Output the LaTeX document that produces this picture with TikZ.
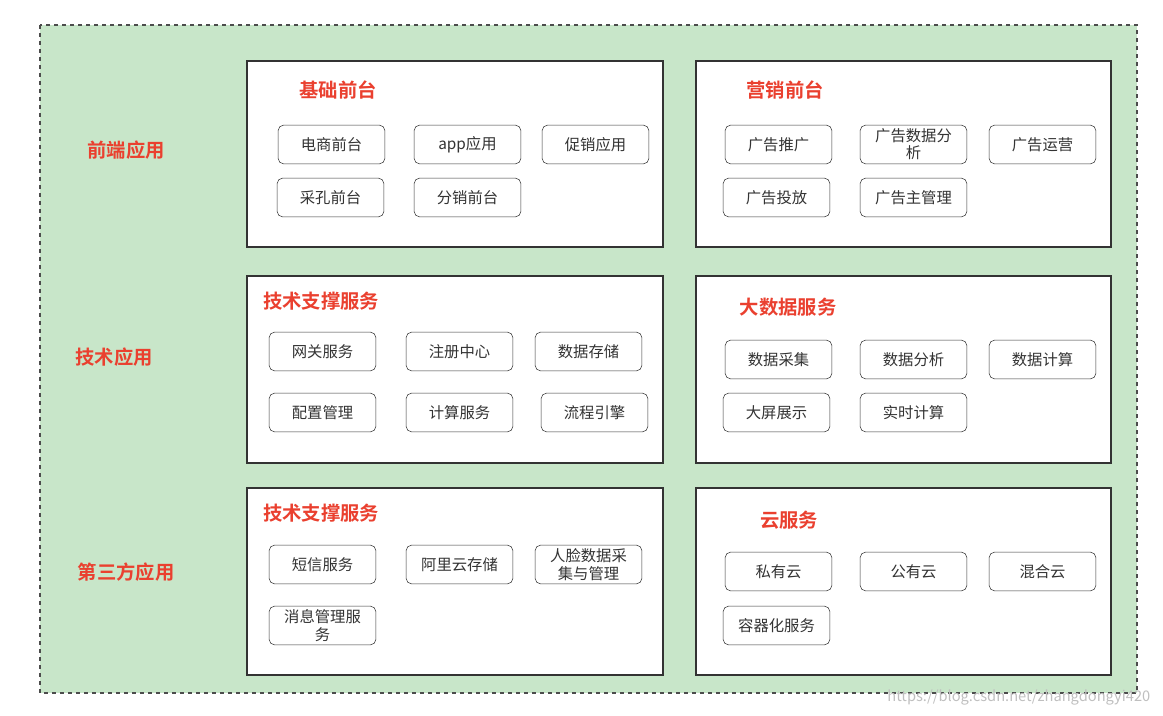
\documentclass[tikz,border=0pt]{standalone}
\usepackage{fontspec}
\setmainfont{Noto Sans CJK SC}[BoldFont={Noto Sans CJK SC Bold}]
\definecolor{bg}{RGB}{200,230,201}
\definecolor{tred}{RGB}{234,64,47}
\begin{document}
\begin{tikzpicture}[x=0.75pt,y=-0.75pt,
  panel/.style={draw=black!80,fill=white,line width=0.8pt},
  sbox/.style={draw=black!80,fill=white,rounded corners=4pt,minimum width=80pt,minimum height=29pt,inner sep=1pt,align=center,font=\fontsize{11.5}{13}\selectfont,text=black!80},
  ttl/.style={text=tred,font=\bfseries\fontsize{14.5}{16}\selectfont}]
\useasboundingbox (0,0) rectangle (1163,716);
\draw[fill=bg,draw=black!70,dashed,line width=0.8pt] (40,25) rectangle (1137,693);
\draw[panel] (247,61) rectangle (663,247);
\draw[panel] (696,61) rectangle (1111,247);
\draw[panel] (247,276) rectangle (663,463);
\draw[panel] (696,276) rectangle (1111,463);
\draw[panel] (247,488) rectangle (663,675);
\draw[panel] (696,488) rectangle (1111,675);
\node[ttl] (l1) at (126,150) {前端应用};
\node[ttl] (l2) at (114,357) {技术应用};
\node[ttl] (l3) at (126,572) {第三方应用};
\node[ttl] (t1) at (338,90) {基础前台};
\node[ttl] (t2) at (785,90) {营销前台};
\node[ttl] (t3) at (321,301) {技术支撑服务};
\node[ttl] (t4) at (788,307) {大数据服务};
\node[ttl] (t5) at (321,513) {技术支撑服务};
\node[ttl] (t6) at (789,520) {云服务};
% P1
\node[sbox] (a1) at (331.5,144.5) {电商前台};
\node[sbox] (a2) at (467.5,144.5) {app应用};
\node[sbox] (a3) at (595.5,144.5) {促销应用};
\node[sbox] (a4) at (330.5,197.5) {采孔前台};
\node[sbox] (a5) at (467.5,197.5) {分销前台};
% P2
\node[sbox] (b1) at (778.5,144.5) {广告推广};
\node[sbox] (b2) at (913.5,144.5) {广告数据分\\析};
\node[sbox] (b3) at (1042.5,144.5) {广告运营};
\node[sbox] (b4) at (776.5,197.5) {广告投放};
\node[sbox] (b5) at (913.5,197.5) {广告主管理};
% P3
\node[sbox] (c1) at (322.5,351.5) {网关服务};
\node[sbox] (c2) at (459.5,351.5) {注册中心};
\node[sbox] (c3) at (588.5,351.5) {数据存储};
\node[sbox] (c4) at (322.5,412.5) {配置管理};
\node[sbox] (c5) at (459.5,412.5) {计算服务};
\node[sbox] (c6) at (594.5,412.5) {流程引擎};
% P4
\node[sbox] (d1) at (778.5,359.5) {数据采集};
\node[sbox] (d2) at (913.5,359.5) {数据分析};
\node[sbox] (d3) at (1042.5,359.5) {数据计算};
\node[sbox] (d4) at (776.5,412.5) {大屏展示};
\node[sbox] (d5) at (913.5,412.5) {实时计算};
% P5
\node[sbox] (e1) at (322.5,564.5) {短信服务};
\node[sbox] (e2) at (459.5,564.5) {阿里云存储};
\node[sbox] (e3) at (588.5,564.5) {人脸数据采\\集与管理};
\node[sbox] (e4) at (322.5,625.5) {消息管理服\\务};
% P6
\node[sbox] (f1) at (778.5,571.5) {私有云};
\node[sbox] (f2) at (913.5,571.5) {公有云};
\node[sbox] (f3) at (1042.5,571.5) {混合云};
\node[sbox] (f4) at (776.5,625.5) {容器化服务};
\node[text=black!25,font=\fontsize{11}{12}\selectfont,anchor=east] (wm) at (1155,697) {https://blog.csdn.net/zhangdongyi420};
\end{tikzpicture}
\end{document}
